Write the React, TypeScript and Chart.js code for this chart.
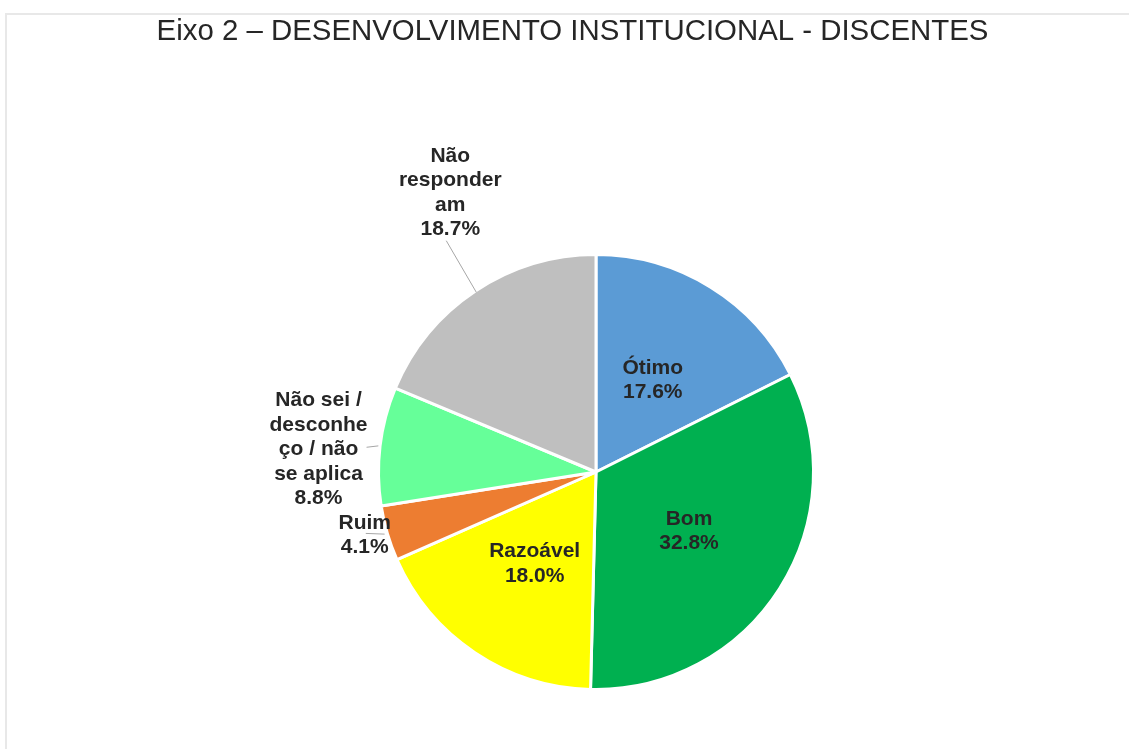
import React, { useEffect, useRef } from 'react';
import { Chart, registerables } from 'chart.js';

Chart.register(...registerables);

const TITLE = 'Eixo 2 – DESENVOLVIMENTO INSTITUCIONAL - DISCENTES';
const categories = ['Ótimo', 'Bom', 'Razoável', 'Ruim', 'Não sei / desconheço / não se aplica', 'Não responderam'];
const percentages = [17.6, 32.8, 18.0, 4.1, 8.8, 18.7];
const labelLines = [
  ['Ótimo'],
  ['Bom'],
  ['Razoável'],
  ['Ruim'],
  ['Não sei /', 'desconhe', 'ço / não', 'se aplica'],
  ['Não', 'responder', 'am'],
];
const sliceColors = ['#5B9BD5', '#00B050', '#FFFF00', '#ED7D31', '#66FF99', '#BFBFBF'];

const BORDER = 3;
const FONT = '"Liberation Sans", Arial, Helvetica, sans-serif';

// label placement styling (inside: fraction of radius; outside: offset from slice edge)
const labelPlacement: any[] = [
  { inside: 0.5 },
  { inside: 0.51 },
  { inside: 0.51 },
  { dx: -24, dy: 2.5, lead: [1, -2], leadEnd: 1.02 },
  { dx: -63, dy: 3, lead: [48, -2], leadEnd: 1.015 },
  { dx: -26, dy: -99.5, lead: [-4, 48], leadEnd: 1.0 },
];

const titlePlugin = {
  id: 'customTitle',
  afterDraw(chart: any) {
    const ctx = chart.ctx;
    ctx.save();
    ctx.font = `normal 29.4px ${FONT}`;
    ctx.fillStyle = '#262626';
    ctx.textAlign = 'center';
    ctx.textBaseline = 'middle';
    ctx.fillText(TITLE, chart.width / 2 + 4.5, 16.5);
    ctx.restore();
  },
};

const labelPlugin = {
  id: 'sliceLabels',
  afterDatasetsDraw(chart: any) {
    const ctx = chart.ctx;
    const meta = chart.getDatasetMeta(0);
    const values = chart.data.datasets[0].data as number[];
    ctx.save();
    ctx.font = `bold 21px ${FONT}`;
    ctx.textAlign = 'center';
    ctx.textBaseline = 'middle';
    meta.data.forEach((arc: any, i: number) => {
      const p = arc.getProps(['x', 'y', 'startAngle', 'endAngle', 'outerRadius'], true);
      const mid = (p.startAngle + p.endAngle) / 2;
      const R = p.outerRadius - BORDER / 2;
      const cos = Math.cos(mid);
      const sin = Math.sin(mid);
      const pl = labelPlacement[i];
      const lines = [...labelLines[i], values[i].toFixed(1) + '%'];
      let cx: number;
      let cy: number;
      if (pl.inside != null) {
        cx = p.x + cos * R * pl.inside;
        cy = p.y + sin * R * pl.inside;
      } else {
        cx = p.x + cos * R + pl.dx;
        cy = p.y + sin * R + pl.dy;
        ctx.strokeStyle = '#A6A6A6';
        ctx.lineWidth = 1;
        ctx.beginPath();
        ctx.moveTo(cx + pl.lead[0], cy + pl.lead[1]);
        ctx.lineTo(p.x + cos * R * pl.leadEnd, p.y + sin * R * pl.leadEnd);
        ctx.stroke();
      }
      const lh = 24.5;
      const top = cy - ((lines.length - 1) * lh) / 2;
      ctx.fillStyle = '#262626';
      lines.forEach((t, k) => ctx.fillText(t, cx, top + k * lh));
    });
    ctx.restore();
  },
};

export default function App() {
  const canvasRef = useRef<HTMLCanvasElement | null>(null);

  useEffect(() => {
    if (!canvasRef.current) return;
    const chart = new Chart(canvasRef.current, {
      type: 'pie',
      data: {
        labels: categories,
        datasets: [
          {
            data: percentages,
            backgroundColor: sliceColors,
            borderColor: '#FFFFFF',
            borderWidth: BORDER,
            hoverBorderWidth: BORDER,
            offset: 0,
            hoverOffset: 0,
          },
        ],
      },
      options: {
        responsive: false,
        animation: false,
        events: [],
        layout: { padding: { top: 238, bottom: 58, left: 56, right: 0 } },
        plugins: {
          legend: { display: false },
          title: { display: false },
          tooltip: { enabled: false },
        },
      },
      plugins: [labelPlugin, titlePlugin],
    });
    return () => chart.destroy();
  }, []);

  return (
    <div
      style={{
        position: 'absolute',
        left: 5,
        top: 13,
        width: 1124,
        height: 736,
        boxSizing: 'border-box',
        borderTop: '2px solid #E8E8E8',
        borderLeft: '2px solid #E8E8E8',
        background: '#FFFFFF',
        overflow: 'hidden',
      }}
    >
      <canvas ref={canvasRef} width={1122} height={734} style={{ display: 'block' }} />
    </div>
  );
}
